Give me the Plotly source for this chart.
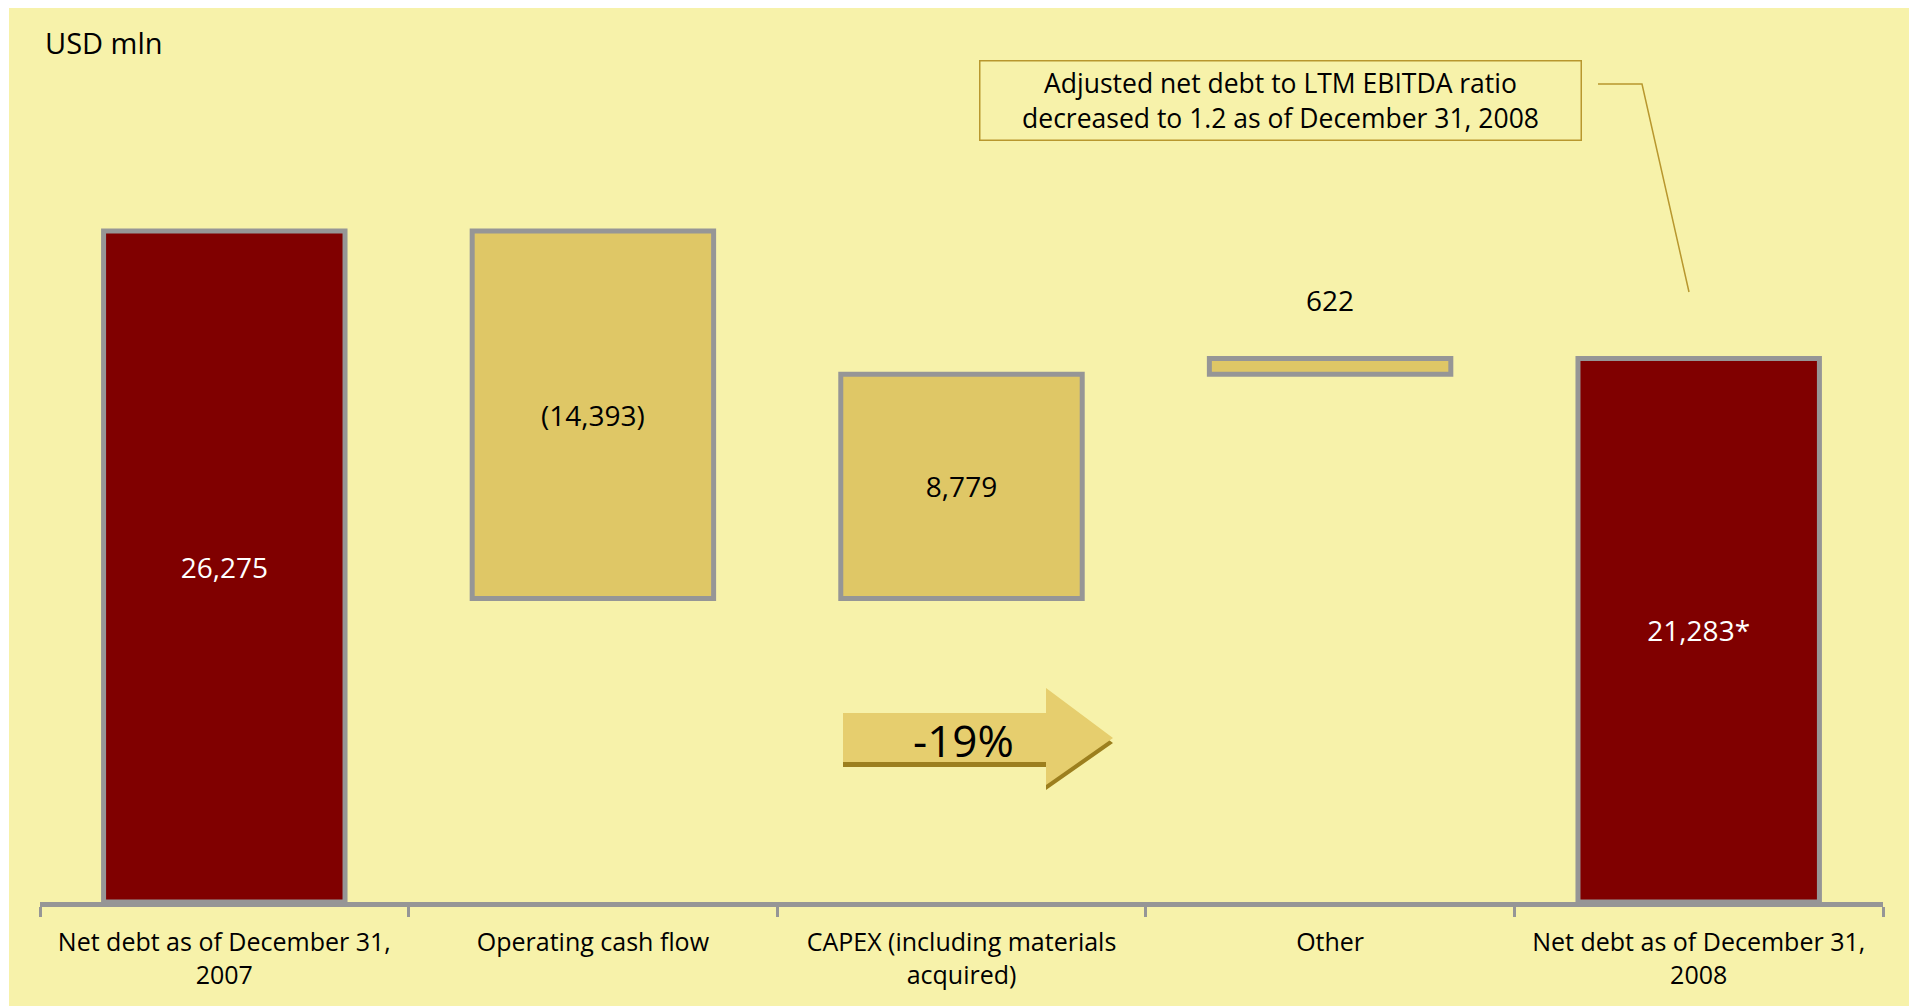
import plotly.graph_objects as go

# data
categories = ["Net debt as of December 31,<br>2007", "Operating cash flow",
              "CAPEX (including materials<br>acquired)", "Other",
              "Net debt as of December 31,<br>2008"]
values = [26275, -14393, 8779, 622, 21283]
measures = ["total", "relative", "relative", "relative", "total"]
notes = ["", "", "", "", "*"]
change_label = "-19%"
unit_label = "USD mln"
callout = "Adjusted net debt to LTM EBITDA ratio<br>decreased to 1.2 as of December 31, 2008"

# colours
bg_yellow = "#F7F2AA"
dark_red = "#800000"
mustard = "#DFC766"
grey = "#969696"
gold = "#B8972E"

# waterfall bases from the running total
bases, running = [], 0
for v, m in zip(values, measures):
    if m == "total":
        bases.append(0)
        running = v
    else:
        bases.append(running)
        running += v

def fmt(v):
    s = f"{abs(v):,}"
    return f"({s})" if v < 0 else s

small = [abs(v) < 2000 for v in values]
labels = [fmt(v) + n + ("<br>&nbsp;" if s else "") for v, n, s in zip(values, notes, small)]
fills = [dark_red if m == "total" else mustard for m in measures]
txt_col = ["white" if m == "total" else "black" for m in measures]
txt_pos = ["outside" if s else "inside" for s in small]

fig = go.Figure(go.Bar(
    x=categories, y=values, base=bases,
    width=0.655,
    marker=dict(color=fills, line=dict(color=grey, width=5)),
    text=labels, textposition=txt_pos, insidetextanchor="middle",
    textfont=dict(family="Open Sans", size=28, color=txt_col),
    cliponaxis=False, hoverinfo="skip",
))

# page pixel layout (page has an 8px body margin)
OFF = 8
W, H = 1917, 1006
L, R, T, B = 40 - OFF, 1883 - OFF, 30 - OFF, 902 - OFF

def px(x):
    return (x - OFF - L) / (R - L)

def py(y):
    return (B - (y - OFF)) / (B - T)

def path(pts):
    return "M " + " L ".join(f"{px(x)},{py(y)}" for x, y in pts) + " Z"

arrow = [(843, 713), (1046, 713), (1046, 688), (1113, 738),
         (1046, 785), (1046, 762), (843, 762)]
arrow_shadow = [(x, y + 5) for x, y in arrow]

shapes = [
    dict(type="rect", xref="paper", yref="paper", x0=px(9), x1=px(1913),
         y0=py(1020), y1=py(5), fillcolor=bg_yellow, line_width=0, layer="below"),
    dict(type="path", xref="paper", yref="paper", path=path(arrow_shadow),
         fillcolor="#9C7F1E", line_width=0),
    dict(type="path", xref="paper", yref="paper", path=path(arrow),
         fillcolor="#E6CE6E", line_width=0),
    dict(type="path", xref="paper", yref="paper",
         path="M %f,%f L %f,%f L %f,%f" % (px(1598), py(84), px(1642), py(84), px(1689), py(292)),
         line=dict(color=gold, width=1.5)),
]

annotations = [
    dict(text=unit_label, xref="paper", yref="paper", x=px(43), y=py(42),
         xanchor="left", yanchor="middle", showarrow=False,
         font=dict(family="Open Sans", size=29, color="black")),
    dict(text=change_label, xref="paper", yref="paper", x=px(963), y=py(740),
         xanchor="center", yanchor="middle", showarrow=False,
         font=dict(family="Open Sans", size=44, color="black")),
    dict(text=callout, xref="paper", yref="paper", x=px(1280), y=py(101),
         xanchor="center", yanchor="middle", showarrow=False,
         width=600, height=78, borderpad=0, borderwidth=1.5, bordercolor=gold,
         font=dict(family="Open Sans", size=26.5, color="black")),
]

fig.update_layout(
    width=W, height=H,
    margin=dict(l=L, r=W - R, t=T, b=H - B, autoexpand=False),
    paper_bgcolor="white", plot_bgcolor="rgba(0,0,0,0)",
    showlegend=False, shapes=shapes, annotations=annotations,
    font=dict(family="Open Sans", color="black"),
)
fig.update_xaxes(
    range=[-0.5, 4.5], showline=True, linecolor=grey, linewidth=5,
    tickson="boundaries", ticks="outside", ticklen=10, tickwidth=3, tickcolor=grey,
    ticklabelstandoff=14,
    showgrid=False, tickfont=dict(family="Open Sans", size=25, color="black"),
)
fig.update_yaxes(visible=False, range=[0, (B - T) * 26275 / 671], showgrid=False, zeroline=False)

fig.write_html("out.html")
